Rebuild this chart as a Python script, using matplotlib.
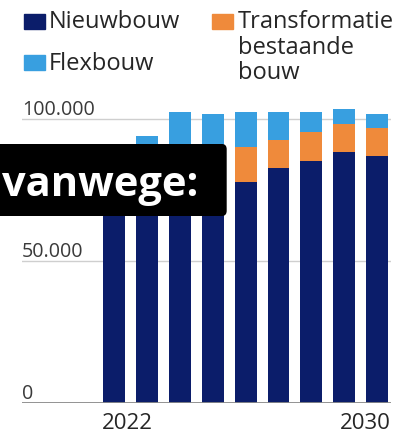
import matplotlib
matplotlib.use("Agg")
import matplotlib.pyplot as plt
from matplotlib.patches import Rectangle, FancyBboxPatch
from matplotlib.transforms import blended_transform_factory
import numpy as np

plt.rcParams['font.family'] = ['Open Sans', 'DejaVu Sans']

# --- data -------------------------------------------------------------
years = [2022, 2023, 2024, 2025, 2026, 2027, 2028, 2029, 2030]
nieuwbouw = [70000, 70000, 72000, 75000, 78000, 82900, 85400, 88600, 87100]
transformatie = [8000, 10000, 13000, 13000, 12300, 9800, 10000, 9800, 9900]
flexbouw = [7000, 14100, 17500, 13900, 12400, 10000, 7300, 5100, 4900]
series_names = ["Nieuwbouw", "Transformatie bestaande bouw", "Flexbouw"]
y_ticks = [0, 50000, 100000]
x_labels = ["2022", "2030"]
overlay_text = "vanwege:"

# --- styling ----------------------------------------------------------
C_NAVY = "#0b1d6a"
C_ORANGE = "#ef8a3b"
C_BLUE = "#389fe0"
TXT = "#262626"

W, H = 399, 436
fig = plt.figure(figsize=(W / 100, H / 100), dpi=100)


def fx(px):
    return px / W


def fy(py):
    return 1 - py / H


ax_left, ax_right = 22, 391
ax_bottom, ax_top = 402.7, 105.2
ax = fig.add_axes([fx(ax_left), fy(ax_bottom), fx(ax_right - ax_left),
                   (ax_bottom - ax_top) / H])

x = np.arange(len(years))
bar_w = 0.668
nb = np.array(nieuwbouw)
tr = np.array(transformatie)
fl = np.array(flexbouw)

ax.axhline(50000, color="#cfcfcf", lw=1.0, zorder=0)
ax.axhline(100000, color="#cfcfcf", lw=1.0, zorder=0)

ax.bar(x, nb, bar_w, color=C_NAVY, zorder=2)
ax.bar(x, tr, bar_w, bottom=nb, color=C_ORANGE, zorder=2)
ax.bar(x, fl, bar_w, bottom=nb + tr, color=C_BLUE, zorder=2)

ax.axhline(0, color="#8a8a8a", lw=1.3, zorder=3)

ax.set_xlim(-2.796, 8.419)
ax.set_ylim(0, 105000)
ax.axis("off")

# y labels sit above their gridlines, flush left
trans_y = blended_transform_factory(ax.transAxes, ax.transData)
for v in y_ticks:
    lab = f"{v:,}".replace(",", ".")
    ax.annotate(lab, xy=(0, v), xycoords=trans_y, xytext=(0, 3),
                textcoords="offset points", ha="left", va="baseline",
                fontsize=14.2, color="#3a3a3a")

# first and last year under the outer bars
trans_x = blended_transform_factory(ax.transData, ax.transAxes)
ax.annotate(x_labels[0], xy=(x[0] - bar_w / 2, 0), xycoords=trans_x,
            xytext=(-1, -19.2), textcoords="offset points",
            ha="left", va="baseline", fontsize=16, color=TXT)
ax.annotate(x_labels[-1], xy=(x[-1] + bar_w / 2, 0), xycoords=trans_x,
            xytext=(1.5, -19.2), textcoords="offset points",
            ha="right", va="baseline", fontsize=16, color=TXT)

# legend
leg_fs = 17


def swatch(px, py, color):
    fig.patches.append(Rectangle((fx(px), fy(py + 14.7)), fx(20.7), 14.7 / H,
                                 transform=fig.transFigure, color=color,
                                 figure=fig))


swatch(24.3, 14.3, C_NAVY)
fig.text(fx(49), fy(28.0), series_names[0], fontsize=leg_fs, color=TXT,
         ha="left", va="baseline")
swatch(24.3, 55.3, C_BLUE)
fig.text(fx(49), fy(69.8), series_names[2], fontsize=leg_fs, color=TXT,
         ha="left", va="baseline")
swatch(212, 14.5, C_ORANGE)
for i, line in enumerate(series_names[1].split(" ")):
    fig.text(fx(238), fy(28.3 + 25.2 * i), line, fontsize=leg_fs, color=TXT,
             ha="left", va="baseline")

# black caption band with white bold text
box = FancyBboxPatch((fx(-20), fy(216)), fx(246.7), 72 / H,
                     boxstyle="round,pad=0,rounding_size=0.012",
                     transform=fig.transFigure, facecolor="black",
                     edgecolor="none", figure=fig, zorder=10)
fig.patches.append(box)
fig.text(fx(1.5), fy(196.5), overlay_text, fontsize=30, fontweight="bold",
         color="white", ha="left", va="baseline", zorder=11)

fig.savefig("out.png", dpi=100)
